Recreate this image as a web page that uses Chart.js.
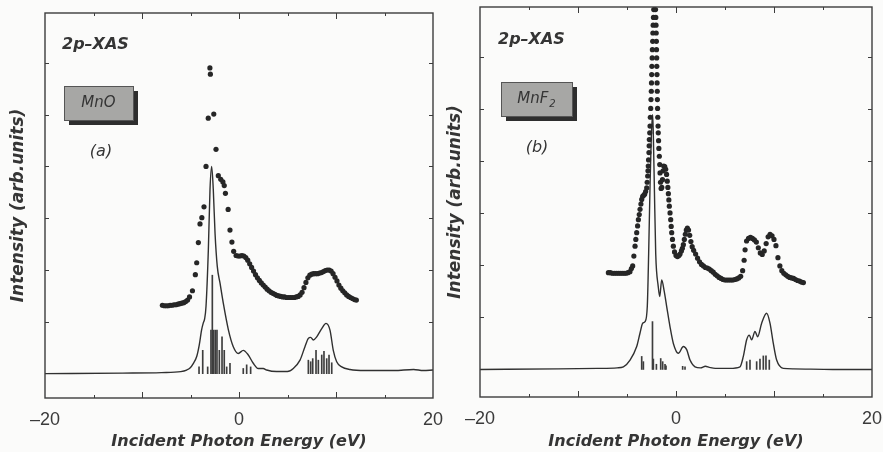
<!DOCTYPE html>
<html lang="en">
<head>
<meta charset="UTF-8">
<title>2p-XAS MnO / MnF2</title>
<script src="https://cdn.jsdelivr.net/npm/chart.js@4.4.1/dist/chart.umd.min.js"></script>
<style>
  body { margin: 0; background: #fbfbfa; }
  #wrap { position: relative; width: 883px; height: 452px; overflow: hidden; }
  canvas { position: absolute; top: 0; }
  #chartA { left: 0; }
  #chartB { left: 440px; }
</style>
</head>
<body>
<div id="wrap">
  <canvas id="chartA" width="455" height="452"></canvas>
  <canvas id="chartB" width="443" height="452"></canvas>
</div>
<script>
// axis ticks (energy in eV, intensity in arb. units)
var xLabels = [-20, 0, 20]
var xMarks = [-15, -10, -5, 0, 5, 10, 15]
var yMarks = [1, 2, 3, 4, 5, 6]

// MnO : measured points
var mnoExpX = [-7.9,-7.7,-7.5,-7.3,-7.1,-6.9,-6.7,-6.5,-6.3,-6.1,-5.9,-5.7,-5.5,-5.3,-5.1,
  -4.8,-4.5,-4.36,-4.19,-4.02,-3.83,-3.61,-3.4,-3.17,-3.0,-2.95,-2.6,-2.37,-2.13,-1.88,-1.66,-1.52,-1.4,-1.12,-0.93,-0.73,-0.55,
  -0.3,-0.1,0.1,0.3,0.5,0.7,0.9,1.1,1.3,1.5,1.7,1.9,2.1,2.3,2.5,2.7,2.9,3.1,3.3,3.5,3.7,3.9,4.1,4.3,4.5,4.7,4.9,5.1,5.3,5.5,
  5.7,5.9,6.1,6.3,6.5,6.7,6.9,7.1,7.3,7.5,7.7,7.9,8.1,8.3,8.5,8.7,8.9,9.1,9.3,9.5,9.7,9.9,10.1,10.3,10.5,10.7,10.9,11.1,11.3,11.5,
  11.7,11.9,12.1]
var mnoExpY = [1.32,1.31,1.31,1.31,1.32,1.32,1.33,1.33,1.34,1.35,1.36,1.37,1.39,1.42,1.48,
  1.6,1.91,2.14,2.53,2.89,3.01,3.22,4.0,4.93,5.9,5.78,5.01,4.33,3.82,3.75,3.7,3.63,3.48,3.17,2.77,2.54,2.36,
  2.28,2.27,2.27,2.28,2.27,2.24,2.19,2.12,2.05,1.98,1.91,1.85,1.80,1.75,1.71,1.67,1.63,1.60,1.57,1.55,1.53,1.51,1.50,1.49,1.48,1.48,1.47,1.47,1.47,1.47,
  1.47,1.48,1.49,1.52,1.57,1.66,1.76,1.85,1.90,1.92,1.93,1.93,1.93,1.94,1.95,1.97,1.99,2.00,2.00,1.98,1.93,1.86,1.79,1.71,1.65,1.60,1.56,1.52,1.49,1.47,
  1.45,1.43,1.42]

// MnO : calculated spectrum
var mnoCalcX = [-20,-12,-8,-6,-5.4,-5.05,-4.7,-4.36,-4.1,-3.85,-3.68,-3.55,-3.4,-3.16,-2.99,-2.82,-2.65,-2.47,-2.24,-1.96,-1.62,-1.1,-0.59,-0.07,
  0.44,0.96,1.47,1.99,2.5,2.85,3.88,5.0,5.6,6.29,6.8,7.15,7.39,7.66,8.01,8.53,8.97,9.38,9.72,10.07,10.59,11.44,13,16,18,19,20]
var mnoCalcY = [0,0.01,0.02,0.04,0.07,0.11,0.2,0.33,0.55,0.85,0.98,1.05,1.3,2.39,3.55,4.0,3.55,2.71,2.07,1.75,1.36,0.85,0.52,0.39,
  0.45,0.36,0.2,0.1,0.1,0.07,0.04,0.04,0.1,0.26,0.52,0.68,0.7,0.65,0.71,0.87,0.97,0.84,0.45,0.23,0.13,0.08,0.06,0.06,0.08,0.06,0.07]

// MnO : multiplet lines
var mnoLineX = [-4.12,-3.74,-3.23,-2.89,-2.75,-2.61,-2.44,-2.27,-2.03,-1.75,-1.52,-1.27,-0.93,0.44,0.79,1.2,
  7.15,7.39,7.6,7.94,8.18,8.53,8.76,9.04,9.28,9.56]
var mnoLineY = [0.13,0.45,0.13,0.84,1.9,0.84,0.84,0.84,0.45,0.71,0.45,0.13,0.2,0.1,0.17,0.13,
  0.26,0.23,0.29,0.45,0.26,0.36,0.43,0.29,0.36,0.21]

// MnF2 : measured points
var mnfExpX = [-6.9,-6.7,-6.5,-6.3,-6.1,-5.9,-5.7,-5.5,-5.3,-5.1,-4.9,-4.7,-4.55,-4.42,
  -4.3,-4.18,-4.1,-4.01,-3.92,-3.84,-3.75,-3.67,-3.58,-3.5,-3.4,-3.3,-3.2,-3.1,-2.99,-2.94,-2.89,-2.86,-2.83,-2.8,
  -2.76,-2.74,-2.72,-2.68,-2.65,-2.62,-2.58,-2.55,-2.52,-2.5,-2.48,-2.46,-2.43,-2.41,-2.38,-2.36,-2.33,-2.3,-2.27,-2.24,
  -2.12,-2.09,-2.06,-2.04,-2.02,-2.0,-1.99,-1.97,-1.96,-1.94,-1.93,-1.91,-1.9,-1.88,-1.86,-1.83,-1.81,-1.78,-1.75,-1.7,
  -1.66,-1.63,-1.58,-1.52,-1.45,-1.38,-1.32,-1.25,-1.15,-1.05,-0.96,-0.89,-0.83,-0.78,-0.73,-0.68,-0.61,-0.54,-0.49,-0.44,
  -0.36,-0.27,-0.15,
  0.0,0.15,0.3,0.41,0.55,0.65,0.75,0.85,0.95,1.05,1.16,1.28,1.4,1.52,1.65,1.8,2.0,2.2,2.4,2.6,2.8,3.0,3.2,3.4,3.6,3.8,4.0,4.2,4.4,4.6,
  4.8,5.0,5.2,5.4,5.6,5.8,6.0,6.2,6.4,6.6,6.8,6.95,7.05,7.2,7.4,7.6,7.8,8.0,8.2,8.4,8.6,8.8,9.0,9.2,9.4,9.6,9.8,10.0,10.2,10.4,
  10.6,10.8,11.0,11.2,11.4,11.6,11.8,12.0,12.2,12.4,12.6,12.8,13.0]
var mnfExpY = [1.86,1.86,1.85,1.85,1.85,1.85,1.85,1.85,1.85,1.85,1.86,1.88,1.94,1.99,
  2.18,2.37,2.5,2.63,2.76,2.88,2.98,3.08,3.18,3.27,3.33,3.35,3.37,3.42,3.49,3.6,3.72,3.82,3.91,4.03,
  4.17,4.3,4.42,4.55,4.68,4.85,5.02,5.19,5.35,5.51,5.67,5.83,5.99,6.15,6.31,6.47,6.62,6.77,6.92,7.06,
  7.06,6.92,6.77,6.62,6.47,6.31,6.15,5.99,5.83,5.67,5.51,5.35,5.19,5.02,4.85,4.68,4.55,4.4,4.25,4.1,
  3.94,3.78,3.6,3.48,3.5,3.65,3.82,3.91,3.9,3.85,3.75,3.62,3.5,3.38,3.26,3.14,3.01,2.88,2.75,2.63,
  2.5,2.37,2.26,
  2.19,2.17,2.19,2.22,2.28,2.33,2.4,2.5,2.6,2.68,2.72,2.68,2.58,2.46,2.36,2.29,2.22,2.14,2.07,2.02,1.99,1.96,1.95,1.93,1.9,1.87,1.83,1.8,1.77,1.75,
  1.73,1.72,1.72,1.72,1.72,1.72,1.73,1.74,1.76,1.79,1.9,2.1,2.3,2.47,2.52,2.54,2.52,2.49,2.45,2.34,2.24,2.21,2.28,2.42,2.55,2.6,2.57,2.5,2.38,2.15,
  1.99,1.9,1.85,1.82,1.79,1.77,1.76,1.75,1.73,1.71,1.7,1.68,1.67]

// MnF2 : calculated spectrum
var mnfCalcX = [-20,-12,-8,-6,-5.37,-4.69,-4.01,-3.67,-3.4,-3.16,-2.93,-2.79,-2.65,-2.52,-2.38,-2.31,-2.21,-2.07,-1.81,-1.66,-1.46,-1.2,-0.95,-0.61,
  -0.27,0.24,0.75,1.09,1.43,1.94,2.5,3.0,3.4,4.0,5.5,6.53,6.87,7.21,7.48,7.72,8.06,8.33,8.74,9.25,9.59,9.93,10.27,10.95,12,16,20]
var mnfCalcY = [0,0.01,0.02,0.03,0.05,0.18,0.44,0.7,0.89,0.92,1.21,2.23,3.52,4.48,4.9,4.48,3.52,2.23,1.59,1.4,1.72,1.5,1.21,0.82,
  0.5,0.31,0.44,0.38,0.18,0.05,0.03,0.06,0.04,0.02,0.02,0.05,0.25,0.57,0.66,0.57,0.73,0.63,0.89,1.08,0.89,0.5,0.18,0.02,0.01,0,0]

// MnF2 : multiplet lines
var mnfLineX = [-3.5,-3.33,-2.4,-2.31,-2.0,-1.56,-1.36,-1.12,-1.02,0.68,0.92,7.21,7.55,8.23,8.57,8.91,9.18,9.52]
var mnfLineY = [0.25,0.15,0.92,0.2,0.1,0.21,0.15,0.1,0.07,0.06,0.05,0.15,0.18,0.15,0.2,0.26,0.26,0.18]

var ink = '#353535'

function pts(xs, ys) {
  return xs.map((x, i) => ({x: x, y: ys[i]}))
}

// frame round the plot area with short ticks pointing inward
const frameTicks = {
  id: 'frameTicks',
  afterDatasetsDraw(chart) {
    const {ctx, chartArea: a, scales: {x, y}} = chart
    ctx.save()
    ctx.strokeStyle = '#3c3c3c'
    ctx.lineWidth = 1.4
    ctx.strokeRect(a.left, a.top, a.right - a.left, a.bottom - a.top)
    ctx.lineWidth = 1
    ctx.beginPath()
    xMarks.forEach(v => {
      const px = Math.round(x.getPixelForValue(v)) + 0.5
      const len = v % 10 === 0 ? 6 : 3
      ctx.moveTo(px, a.bottom); ctx.lineTo(px, a.bottom - len)
      ctx.moveTo(px, a.top); ctx.lineTo(px, a.top + len)
    })
    yMarks.forEach(v => {
      const py = Math.round(y.getPixelForValue(v)) + 0.5
      ctx.moveTo(a.left, py); ctx.lineTo(a.left + 4, py)
      ctx.moveTo(a.right, py); ctx.lineTo(a.right - 4, py)
    })
    ctx.stroke()
    ctx.restore()
  }
}

// spectrum tag, sample box with drop shadow and panel letter
const panelText = {
  id: 'panelText',
  afterDraw(chart, args, o) {
    const ctx = chart.ctx
    ctx.save()
    ctx.textBaseline = 'middle'
    ctx.fillStyle = ink
    ctx.font = 'italic bold 16px "DejaVu Sans"'
    ctx.fillText(o.tag, o.tagX, o.tagY)

    ctx.fillStyle = '#2e2e2e'
    ctx.fillRect(o.boxX + 5, o.boxY + 5, o.boxW, o.boxH)
    ctx.fillStyle = '#a7a7a5'
    ctx.fillRect(o.boxX, o.boxY, o.boxW, o.boxH)
    ctx.strokeStyle = '#555'
    ctx.lineWidth = 1
    ctx.strokeRect(o.boxX + 0.5, o.boxY + 0.5, o.boxW, o.boxH)

    ctx.fillStyle = ink
    ctx.font = 'italic 15px "DejaVu Sans"'
    const w = ctx.measureText(o.name).width
    let subW = 0
    if (o.sub) {
      ctx.font = 'italic 10px "DejaVu Sans"'
      subW = ctx.measureText(o.sub).width + 1
    }
    const cx = o.boxX + o.boxW / 2
    const cy = o.boxY + o.boxH / 2
    const start = cx - (w + subW) / 2
    ctx.font = 'italic 15px "DejaVu Sans"'
    ctx.fillText(o.name, start, cy)
    if (o.sub) {
      ctx.font = 'italic 10px "DejaVu Sans"'
      ctx.fillText(o.sub, start + w + 1, cy + 5)
    }

    ctx.font = 'italic 16px "DejaVu Sans"'
    ctx.textAlign = 'center'
    ctx.fillText(o.part, o.partX, o.partY)
    ctx.restore()
  }
}

function makeChart(id, exp, calc, lines, cfg) {
  return new Chart(document.getElementById(id).getContext('2d'), {
    type: 'scatter',
    data: {
      datasets: [
        {
          label: 'experiment',
          data: exp,
          pointRadius: 2.6,
          pointBackgroundColor: '#262626',
          pointBorderWidth: 0,
          showLine: false
        },
        {
          type: 'line',
          label: 'calculation',
          data: calc,
          borderColor: '#303030',
          borderWidth: 1.4,
          pointRadius: 0,
          cubicInterpolationMode: 'monotone',
          fill: false
        },
        {
          type: 'bar',
          label: 'lines',
          data: lines,
          backgroundColor: '#3d3d3d',
          barThickness: 1,
          borderWidth: 0
        }
      ]
    },
    options: {
      responsive: false,
      animation: false,
      events: [],
      layout: {padding: cfg.pad},
      plugins: {
        legend: {display: false},
        tooltip: {enabled: false},
        panelText: cfg.text
      },
      scales: {
        x: {
          type: 'linear',
          min: -20,
          max: 20,
          offset: false,
          grid: {display: false},
          border: {display: false},
          afterBuildTicks: s => { s.ticks = xLabels.map(v => ({value: v})) },
          afterFit: s => { s.height = cfg.xh; s.paddingLeft = 0; s.paddingRight = 0 },
          ticks: {
            padding: 3,
            color: '#3a3a3a',
            maxRotation: 0,
            autoSkip: false,
            font: {family: 'Liberation Sans', size: 18},
            callback: v => v < 0 ? '\u2013' + Math.abs(v) : String(v)
          },
          title: {
            display: true,
            text: 'Incident Photon Energy (eV)',
            color: ink,
            padding: {top: 0, bottom: 1},
            font: {family: 'DejaVu Sans', size: 16, style: 'italic', weight: 'bold'}
          }
        },
        y: {
          type: 'linear',
          min: cfg.ymin,
          max: cfg.ymax,
          grid: {display: false},
          border: {display: false},
          ticks: {display: false},
          afterBuildTicks: s => { s.ticks = yMarks.map(v => ({value: v})) },
          afterFit: s => { s.width = cfg.yw; s.paddingTop = 0; s.paddingBottom = 0 },
          title: {
            display: true,
            text: 'Intensity (arb.units)',
            color: ink,
            padding: {top: cfg.ytitle, bottom: 0},
            font: {family: 'DejaVu Sans', size: 17, style: 'italic', weight: 'bold'}
          }
        }
      }
    },
    plugins: [frameTicks, panelText]
  })
}

makeChart('chartA', pts(mnoExpX, mnoExpY), pts(mnoCalcX, mnoCalcY), pts(mnoLineX, mnoLineY), {
  pad: {left: 0, right: 22, top: 13, bottom: 0},
  xh: 54, yw: 45, ytitle: 8,
  ymin: -0.47, ymax: 6.96,
  text: {tag: '2p\u2013XAS', tagX: 62, tagY: 45,
    boxX: 64, boxY: 86, boxW: 69, boxH: 34, name: 'MnO', sub: '',
    part: '(a)', partX: 101, partY: 152}
})

makeChart('chartB', pts(mnfExpX, mnfExpY), pts(mnfCalcX, mnfCalcY), pts(mnfLineX, mnfLineY), {
  pad: {left: 0, right: 11, top: 7, bottom: 0},
  xh: 55, yw: 40, ytitle: 5,
  ymin: -0.53, ymax: 6.97,
  text: {tag: '2p\u2013XAS', tagX: 58, tagY: 40,
    boxX: 61, boxY: 82, boxW: 71, boxH: 34, name: 'MnF', sub: '2',
    part: '(b)', partX: 97, partY: 148}
})
</script>
</body>
</html>
